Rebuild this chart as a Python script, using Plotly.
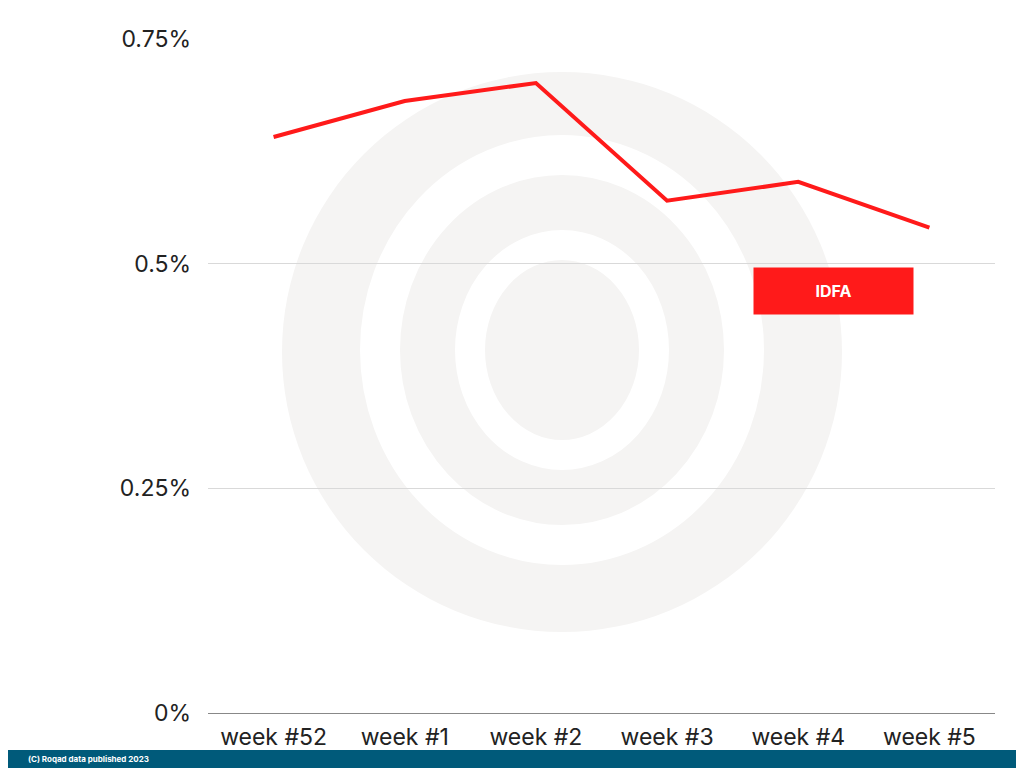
import plotly.graph_objects as go

weeks = ["week #52", "week #1", "week #2", "week #3", "week #4", "week #5"]
idfa = [0.641, 0.681, 0.701, 0.570, 0.591, 0.540]
yticks = [0, 0.25, 0.5, 0.75]
yticklabels = ["0%", "0.25%", "0.5%", "0.75%"]

W = 787
H = 674
def px(x): return (x - 208) / W
def py(y): return (713 - y) / H

fig = go.Figure()
fig.add_trace(go.Scatter(x=weeks, y=idfa, mode="lines", name="IDFA",
                         line=dict(color="#ff1a1a", width=4), showlegend=False))

# watermark (approximate logo)
fig.add_shape(type="circle", xref="paper", yref="paper", layer="below",
              x0=px(282), x1=px(842), y0=py(632), y1=py(72),
              fillcolor="#f5f4f3", line=dict(width=0))
fig.add_shape(type="circle", xref="paper", yref="paper", layer="below",
              x0=px(380), x1=px(744), y0=py(545), y1=py(155),
              fillcolor="rgba(0,0,0,0)", line=dict(width=40, color="white"))
fig.add_shape(type="circle", xref="paper", yref="paper", layer="below",
              x0=px(470), x1=px(654), y0=py(455), y1=py(245),
              fillcolor="rgba(0,0,0,0)", line=dict(width=30, color="white"))

# legend box
fig.add_annotation(xref="paper", yref="paper", x=px(833.5), y=py(291),
                   xanchor="center", yanchor="middle",
                   text="<b>IDFA</b>", showarrow=False, bgcolor="#ff1a1a",
                   width=157, height=44, font=dict(color="white", size=16, family="Inter"))

# footer
fig.add_shape(type="rect", xref="paper", yref="paper", x0=px(-10), x1=px(1030),
              y0=py(770), y1=py(750), fillcolor="#005a7a", line=dict(width=0))
fig.add_annotation(xref="paper", yref="paper", x=px(26), y=py(750), xanchor="left",
                   yanchor="top", yshift=-2,
                   text="<b>(C) Roqad data published 2023</b>", showarrow=False,
                   font=dict(color="white", size=8, family="Inter"))

fig.update_layout(
    width=1016, height=760, margin=dict(l=200, r=29, t=31, b=55),
    plot_bgcolor="white", paper_bgcolor="white",
    font=dict(family="Inter", color="#222", size=23),
    xaxis=dict(range=[-0.5, 5.5], showgrid=False, showline=False, ticks="",
               tickfont=dict(size=23), ticklabelstandoff=8),
    yaxis=dict(range=[0, 0.75], tickvals=yticks, ticktext=yticklabels,
               showgrid=True, gridcolor="#d9d9d9", zeroline=True, zerolinecolor="#888",
               zerolinewidth=1, ticks="", ticklabelstandoff=16),
)
fig.write_html("out.html")
